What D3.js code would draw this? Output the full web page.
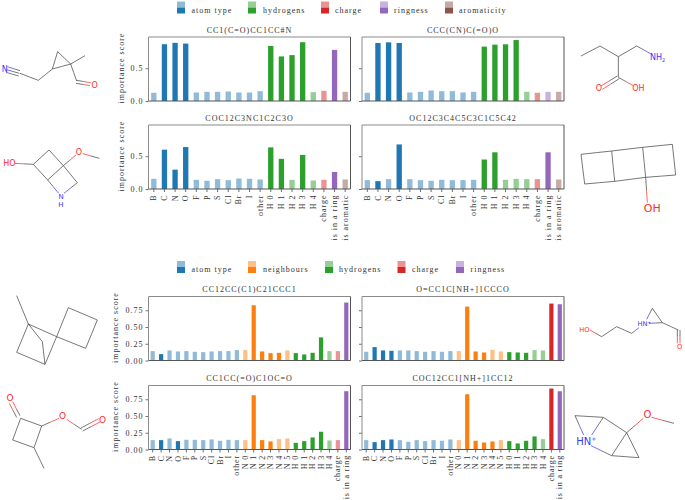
<!DOCTYPE html>
<html>
<head>
<meta charset="utf-8">
<script src="https://cdn.jsdelivr.net/npm/d3@7"></script>
<style>
  html, body { margin: 0; padding: 0; background: #fff; }
  svg { display: block; }
  text { font-family: "Liberation Serif", serif; font-size: 8px; letter-spacing: 1px; fill: #333; }
</style>
</head>
<body>
<svg id="chart" width="685" height="500"></svg>
<script>
  const width = 685;
  const height = 500;

  // feature labels
  const atomLabels = ["B", "C", "N", "O", "F", "P", "S", "Cl", "Br", "I", "other"];
  const neighbourLabels = ["N 0", "N 1", "N 2", "N 3", "N 4", "N 5"];
  const hydrogenLabels = ["H 0", "H 1", "H 2", "H 3", "H 4"];
  const topLabels = atomLabels.concat(hydrogenLabels, ["charge", "is in a ring", "is aromatic"]);
  const bottomLabels = atomLabels.concat(neighbourLabels, hydrogenLabels, ["charge", "is in a ring"]);

  // importance scores, same order as the labels
  const scores1 = [.125, .866, .887, .876, .13, .14, .14, .145, .13, .13, .15, .84, .68, .70, .897, .135, .155, .78, .14];
  const scores2 = [.125, .885, .895, .885, .13, .14, .16, .15, .15, .13, .14, .83, .86, .865, .93, .14, .125, .14, .14];
  const scores3 = [.155, .60, .295, .64, .14, .125, .15, .135, .16, .155, .145, .635, .46, .14, .52, .13, .14, .26, .145];
  const scores4 = [.135, .12, .15, .68, .15, .135, .125, .14, .135, .135, .14, .45, .56, .14, .155, .15, .15, .56, .145];
  const scores5 = [.14, .095, .15, .135, .14, .13, .125, .135, .14, .14, .155, .155, .825, .135, .11, .115, .15, .11, .09, .115, .345, .14, .14, .865];
  const scores6 = [.13, .20, .15, .145, .15, .15, .14, .13, .14, .13, .14, .14, .805, .135, .12, .16, .135, .125, .12, .115, .155, .15, .85, .84];
  const scores7 = [.14, .14, .165, .125, .145, .145, .14, .15, .13, .145, .14, .14, .81, .14, .12, .155, .165, .10, .125, .18, .265, .135, .14, .87];
  const scores8 = [.14, .11, .14, .15, .14, .115, .14, .125, .14, .13, .15, .14, .825, .13, .105, .12, .14, .125, .09, .13, .195, .155, .91, .87];

  // features present in each molecule, drawn in the solid colour
  const strong1 = ["C", "N", "O", "H 0", "H 1", "H 2", "H 3", "is in a ring"];
  const strong2 = ["C", "N", "O", "H 0", "H 1", "H 2", "H 3"];
  const strong3 = ["C", "N", "O", "H 0", "H 1", "H 3", "is in a ring"];
  const strong4 = ["C", "O", "H 0", "H 1", "is in a ring"];
  const strong5 = ["C", "N 1", "N 2", "N 3", "N 4", "H 0", "H 1", "H 2", "H 3", "is in a ring"];
  const strong6 = ["C", "N", "O", "N 1", "N 2", "N 3", "H 0", "H 1", "H 2", "charge", "is in a ring"];
  const strong7 = ["C", "O", "N 1", "N 2", "N 3", "H 0", "H 1", "H 2", "H 3", "is in a ring"];
  const strong8 = ["C", "N", "O", "N 1", "N 2", "N 3", "N 4", "H 0", "H 1", "H 2", "H 3", "charge", "is in a ring"];

  const colors = {
    "atom type": "#1f77b4", "neighbours": "#ff7f0e", "hydrogens": "#2ca02c",
    "charge": "#d62728", "ringness": "#9467bd", "aromaticity": "#8c564b"
  };

  function groupOf(label) {
    if (atomLabels.includes(label)) return "atom type";
    if (neighbourLabels.includes(label)) return "neighbours";
    if (hydrogenLabels.includes(label)) return "hydrogens";
    if (label === "charge") return "charge";
    if (label === "is in a ring") return "ringness";
    return "aromaticity";
  }

  const svg = d3.select("#chart");

  //two colour swatch legend
  function drawLegend(items, y) {
    items.forEach(d => {
      svg.append("rect").attr("x", d[1]).attr("y", y).attr("width", 8).attr("height", 6)
        .attr("fill", colors[d[0]]).attr("opacity", 0.5);
      svg.append("rect").attr("x", d[1]).attr("y", y + 6).attr("width", 8).attr("height", 6)
        .attr("fill", colors[d[0]]);
      svg.append("text").attr("x", d[2]).attr("y", y + 11).text(d[0]);
    });
  }

  drawLegend([["atom type", 177, 191.5], ["hydrogens", 248, 263], ["charge", 321, 335], ["ringness", 380, 394], ["aromaticity", 445, 459]], 1.5);
  drawLegend([["atom type", 177, 191.5], ["neighbours", 248, 263], ["hydrogens", 325, 339], ["charge", 397.5, 412], ["ringness", 456, 470.5]], 261);

  //one bar panel
  function drawPanel(p) {
    let x = d3.scaleBand().domain(p.labels).range([p.left, p.left + 202]).paddingInner(0.5).paddingOuter(0.25);
    let y = d3.scaleLinear().domain([0, p.maxY]).range([p.top + 64, p.top]);

    svg.selectAll(null)
      .data(p.labels.map((l, i) => ({ label: l, value: p.values[i] })))
      .enter()
      .append("rect")
        .attr("x", d => x(d.label))
        .attr("y", d => y(d.value))
        .attr("width", x.bandwidth())
        .attr("height", d => y(0) - y(d.value))
        .attr("fill", d => colors[groupOf(d.label)])
        .attr("opacity", d => p.strong.includes(d.label) ? 1 : 0.5);

    let yAxis = d3.axisLeft(y).tickValues(p.ticks).tickSize(3).tickPadding(2)
      .tickFormat(p.showY ? p.format : "");
    let yG = svg.append("g").attr("transform", `translate(${p.left},0)`).call(yAxis);
    yG.select(".domain").remove();
    yG.selectAll("line").attr("stroke", "#333").attr("stroke-width", 0.7);

    if (p.showX) {
      let xAxis = d3.axisBottom(x).tickSize(3).tickPadding(3);
      let xG = svg.append("g").attr("transform", `translate(0,${p.top + 64})`).call(xAxis);
      xG.select(".domain").remove();
      xG.selectAll("line").attr("stroke", "#333").attr("stroke-width", 0.7);
      xG.selectAll("text")
        .attr("transform", "rotate(-90)")
        .attr("text-anchor", "end")
        .attr("x", -5.5)
        .attr("y", 0)
        .attr("dy", "0.32em")
        .style("letter-spacing", p.xSpacing + "px");
    }

    // box
    svg.append("path").attr("d", `M${p.left},${p.top + 64}V${p.top}H${p.left + 202}`)
      .attr("fill", "none").attr("stroke", "#8a8a8a").attr("stroke-width", 1);
    svg.append("path").attr("d", `M${p.left},${p.top + 64}H${p.left + 202}V${p.top}`)
      .attr("fill", "none").attr("stroke", "#555").attr("stroke-width", 1);

    svg.append("text").attr("x", p.left + 101).attr("y", p.top - 4.5).attr("text-anchor", "middle").text(p.title);

    if (p.showY) {
      svg.append("text")
        .attr("transform", `translate(${p.left - p.labelGap},${p.top + 31}) rotate(-90)`)
        .attr("text-anchor", "middle")
        .text("importance score");
    }
  }

  const topMax = 1.05 * d3.max([scores1, scores2, scores3, scores4].flat());
  const bottomMax = 1.05 * d3.max([scores5, scores6, scores7, scores8].flat());
  const f1 = d3.format(".1f");
  const f2 = d3.format(".2f");
  const ticksTop = [0, 0.5];
  const ticksBottom = [0, 0.25, 0.5, 0.75];

  drawPanel({ title: "CC1(C=O)CC1CC#N", labels: topLabels, values: scores1, strong: strong1, left: 148.5, top: 37, maxY: topMax, ticks: ticksTop, format: f1, labelGap: 25, xSpacing: 1, showY: true, showX: false });
  drawPanel({ title: "CCC(CN)C(=O)O", labels: topLabels, values: scores2, strong: strong2, left: 362, top: 37, maxY: topMax, ticks: ticksTop, format: f1, labelGap: 25, xSpacing: 1, showY: false, showX: false });
  drawPanel({ title: "COC12C3NC1C2C3O", labels: topLabels, values: scores3, strong: strong3, left: 148.5, top: 125, maxY: topMax, ticks: ticksTop, format: f1, labelGap: 25, xSpacing: 1, showY: true, showX: true });
  drawPanel({ title: "OC12C3C4C5C3C1C5C42", labels: topLabels, values: scores4, strong: strong4, left: 362, top: 125, maxY: topMax, ticks: ticksTop, format: f1, labelGap: 25, xSpacing: 1, showY: false, showX: true });
  drawPanel({ title: "CC12CC(C1)C21CCC1", labels: bottomLabels, values: scores5, strong: strong5, left: 148.5, top: 296.5, maxY: bottomMax, ticks: ticksBottom, format: f2, labelGap: 30.5, xSpacing: 0.85, showY: true, showX: false });
  drawPanel({ title: "O=CC1C[NH+]1CCCO", labels: bottomLabels, values: scores6, strong: strong6, left: 362, top: 296.5, maxY: bottomMax, ticks: ticksBottom, format: f2, labelGap: 30.5, xSpacing: 0.85, showY: false, showX: false });
  drawPanel({ title: "CC1CC(=O)C1OC=O", labels: bottomLabels, values: scores7, strong: strong7, left: 148.5, top: 385.5, maxY: bottomMax, ticks: ticksBottom, format: f2, labelGap: 30.5, xSpacing: 0.85, showY: true, showX: true });
  drawPanel({ title: "COC12CC1[NH+]1CC12", labels: bottomLabels, values: scores8, strong: strong8, left: 362, top: 385.5, maxY: bottomMax, ticks: ticksBottom, format: f2, labelGap: 30.5, xSpacing: 0.85, showY: false, showX: true });

  // molecule sketches, each bond: x1, y1, x2, y2, colour at start, colour at end
  const K = "#444";
  const O = "#ff2a2a";
  const N = "#3a3af0";

  const molecule1 = [[22,140,60,152,N,K],[20,149,58,160,N,K],[18,157,56,168,N,K],[60,160,115,181,K,K],[115,181,157,147,K,K],[157,147,173,95,K,K],[173,95,212,132,K,K],[212,132,157,147,K,K],[212,132,255,107,K,K],[212,132,230,183,K,K],[230,181,272,188,K,O],[228,190,270,197,K,O]];
  const labels1 = [["N", 14, 155, N, 24], ["O", 284, 203, O, 24]];
  const molecule2 = [[45,430,100,433,O,K],[100,433,147,390,K,K],[147,390,190,437,K,K],[190,437,143,480,K,K],[143,480,100,433,K,K],[190,437,228,405,K,O],[248,401,298,415,O,K],[190,437,232,488,K,K],[232,488,192,520,K,N],[143,480,176,520,K,N]];
  const labels2 = [["HO", 28, 438, O, 24], ["O", 237, 406, O, 24], ["N", 183, 536, N, 21], ["H", 183, 561, N, 21]];
  const molecule3 = [[18,108,75,78,K,K],[75,78,130,110,K,K],[130,110,185,78,K,K],[185,78,230,103,K,N],[130,110,130,172,K,K],[127,168,78,198,K,O],[133,176,82,208,K,O],[130,172,175,197,K,O]];
  const labels3 = [["NH", 248, 119, N, 24, "2"], ["O", 72, 214, O, 24], ["OH", 190, 214, O, 24]];
  const molecule4 = [[18,403,110,393,K,K],[110,393,203,382,K,K],[203,382,292,373,K,K],[292,373,302,465,K,K],[302,465,212,472,K,K],[212,472,119,484,K,K],[119,484,29,492,K,K],[29,492,18,403,K,K],[110,393,119,484,K,K],[203,382,212,472,K,K],[212,472,217,548,K,O]];
  const labels4 = [["OH", 232, 576, O, 33]];
  const molecule5 = [[50,47,85,132,K,K],[85,132,50,217,K,K],[50,217,135,253,K,K],[135,253,170,170,K,K],[170,170,85,132,K,K],[85,132,127,185,K,K],[127,185,135,253,K,K],[170,170,205,83,K,K],[205,83,292,120,K,K],[292,120,257,205,K,K],[257,205,170,170,K,K]];
  const molecule6 = [[50,412,28,370,K,O],[60,407,38,365,K,O],[62,415,125,438,K,K],[125,438,102,503,K,K],[102,503,38,480,K,K],[38,480,62,415,K,K],[102,503,132,565,K,K],[125,438,177,415,K,O],[200,418,245,448,O,K],[243,444,296,416,K,O],[248,453,300,426,K,O]];
  const labels6 = [["O", 30, 362, O, 27], ["O", 188, 417, O, 27], ["O", 308, 429, O, 27]];
  const molecule7 = [[45,150,80,170,O,K],[80,170,125,140,K,K],[125,140,170,160,K,K],[170,160,192,143,K,N],[215,118,232,85,N,K],[232,85,262,128,K,K],[262,128,222,130,K,N],[262,128,310,150,K,K],[307,150,307,190,K,O],[315,150,315,190,K,O]];
  const labels7 = [["HN", 208, 139, N, 20, "+"], ["HO", 28, 155, O, 20], ["O", 314, 207, O, 20]];
  const molecule8 = [[0,407,85,412,K,K],[85,412,155,458,K,K],[155,458,110,527,K,K],[110,527,192,533,K,K],[192,533,155,458,K,K],[0,407,26,465,K,N],[85,412,50,465,K,N],[48,497,110,527,N,K],[155,458,205,415,K,O],[230,412,297,430,O,K]];
  const labels8 = [["HN", 34, 494, N, 30, "+"], ["O", 217, 415, O, 30]];

  function drawMolecule(bonds, labels, ox, oy) {
    let g = svg.append("g").attr("transform", `translate(${ox},${oy}) scale(${1 / 3})`);
    bonds.forEach(b => {
      let mx = (b[0] + b[2]) / 2;
      let my = (b[1] + b[3]) / 2;
      g.append("line").attr("x1", b[0]).attr("y1", b[1]).attr("x2", mx).attr("y2", my)
        .attr("stroke", b[4]).attr("stroke-width", 2.2);
      g.append("line").attr("x1", mx).attr("y1", my).attr("x2", b[2]).attr("y2", b[3])
        .attr("stroke", b[5]).attr("stroke-width", 2.2);
    });
    labels.forEach(l => {
      let t = g.append("text").attr("x", l[1]).attr("y", l[2]).attr("text-anchor", "middle")
        .style("font-family", "'DejaVu Sans', sans-serif")
        .style("font-size", l[4] + "px")
        .style("letter-spacing", 0)
        .style("fill", l[3]);
      t.append("tspan").text(l[0]);
      // sub or superscript on the same label
      if (l[5]) {
        t.append("tspan")
          .attr("dy", l[5] === "+" ? -l[4] * 0.35 : l[4] * 0.25)
          .style("font-size", l[4] * 0.62 + "px")
          .text(l[5]);
      }
    });
  }

  drawMolecule(molecule1, labels1, 0, 20);
  drawMolecule(molecule2, labels2, 0, 20);
  drawMolecule(molecule3, labels3, 575, 20);
  drawMolecule(molecule4, labels4, 575, 20);
  drawMolecule(molecule5, [], 0, 280);
  drawMolecule(molecule6, labels6, 0, 280);
  drawMolecule(molecule7, labels7, 575, 280);
  drawMolecule(molecule8, labels8, 575, 280);
</script>
</body>
</html>
